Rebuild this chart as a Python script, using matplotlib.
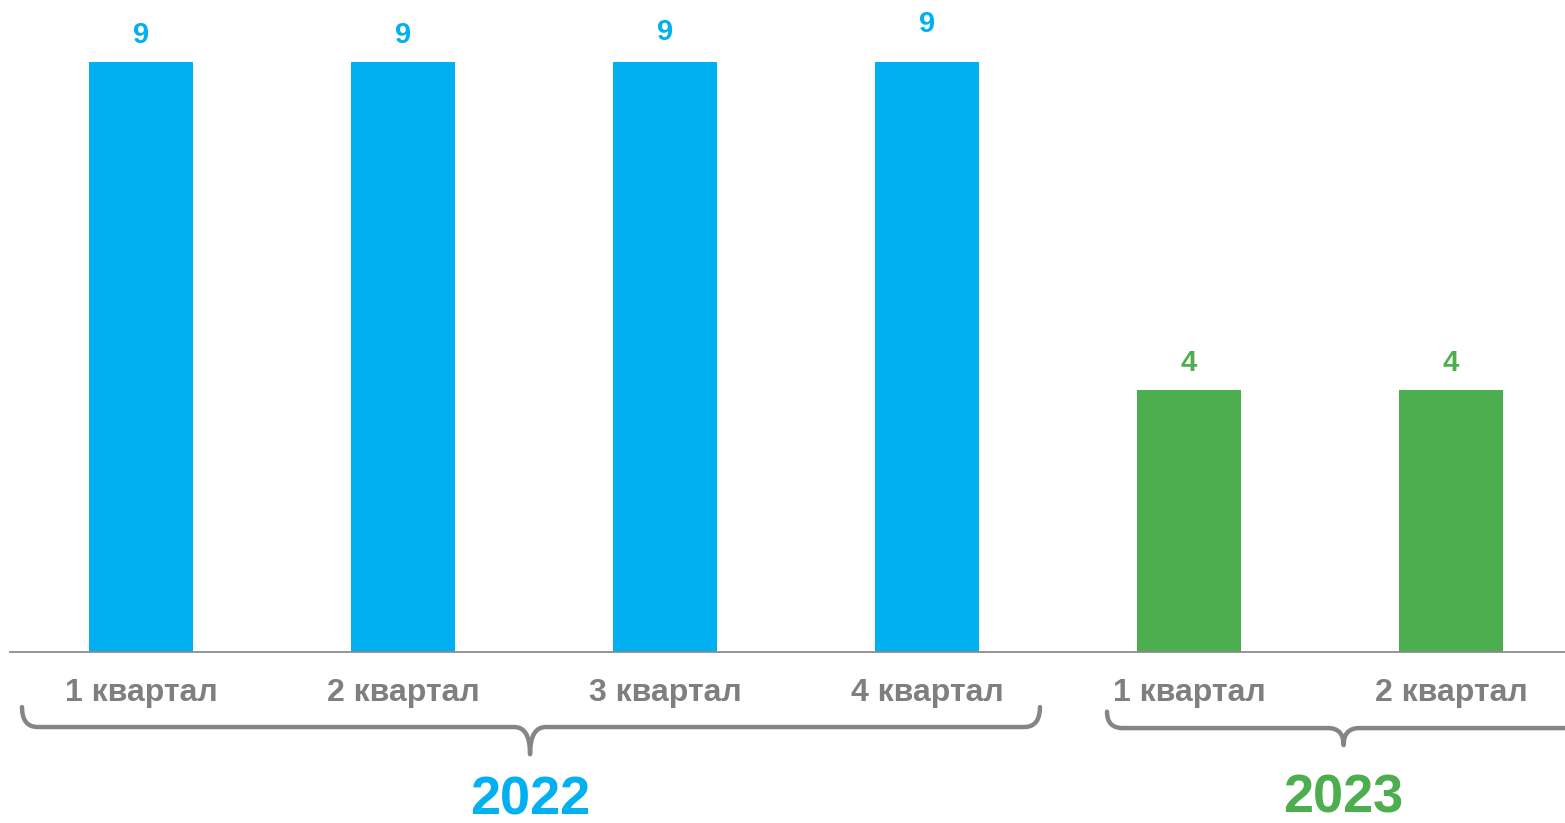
import matplotlib.pyplot as plt
from matplotlib.path import Path
from matplotlib.patches import PathPatch

quarters = ['1 квартал', '2 квартал', '3 квартал', '4 квартал', '1 квартал', '2 квартал']
values = [9, 9, 9, 9, 4, 4]
years = ['2022', '2023']
year_of_bar = [0, 0, 0, 0, 1, 1]

blue = '#00B0F0'
green = '#4DAE4F'
gray = '#7F7F7F'
year_colors = [blue, green]

plt.rcParams['font.family'] = ['Liberation Sans', 'DejaVu Sans']
plt.rcParams['font.weight'] = 'bold'

fig = plt.figure(figsize=(15.65, 8.23), dpi=100)
ax = fig.add_axes([0, 0, 1, 1])
ax.set_xlim(-0.538, 5.435)
ax.set_ylim(-2.608, 9.945)
ax.axis('off')

x = list(range(len(values)))
colors = [year_colors[i] for i in year_of_bar]
ax.bar(x, values, width=0.4, color=colors, zorder=2)

# small nudges of the value labels as in the original
nudge = [0, 0, 3, 11, 0, 0]
for i, v in enumerate(values):
    ax.annotate(str(v), (i, v), xytext=(0, 27 + nudge[i]), textcoords='offset pixels',
                ha='center', va='center', color=colors[i], fontsize=21, fontweight='bold')

ax.plot([-0.5, 5.435], [0, 0], color='#8C8C8C', lw=1.3, zorder=3, clip_on=False)

for i, q in enumerate(quarters):
    ax.text(i, -0.63, q, ha='center', va='center', color=gray, fontsize=23, fontweight='bold')


def brace(x0, x1, xm, y_line, y_end, y_tip, rx=0.06):
    verts = [(x0, y_end), (x0, y_line), (x0 + rx, y_line),
             (xm - rx, y_line), (xm, y_line), (xm, y_tip),
             (xm, y_line), (xm + rx, y_line),
             (x1 - rx, y_line), (x1, y_line), (x1, y_end)]
    codes = [Path.MOVETO, Path.CURVE3, Path.CURVE3,
             Path.LINETO, Path.CURVE3, Path.CURVE3,
             Path.CURVE3, Path.CURVE3,
             Path.LINETO, Path.CURVE3, Path.CURVE3]
    ax.add_patch(PathPatch(Path(verts, codes), fill=False, ec='#858585', lw=3.2,
                           capstyle='round', joinstyle='round', clip_on=False))


brace(-0.454, 3.431, 1.485, -1.144, -0.84, -1.56)
brace(3.687, 5.60, 4.59, -1.16, -0.91, -1.42)

ax.text(1.485, -2.26, years[0], ha='center', va='center', color=blue, fontsize=39, fontweight='bold')
ax.text(4.59, -2.24, years[1], ha='center', va='center', color=green, fontsize=39, fontweight='bold')

fig.savefig('out.png', dpi=100)
